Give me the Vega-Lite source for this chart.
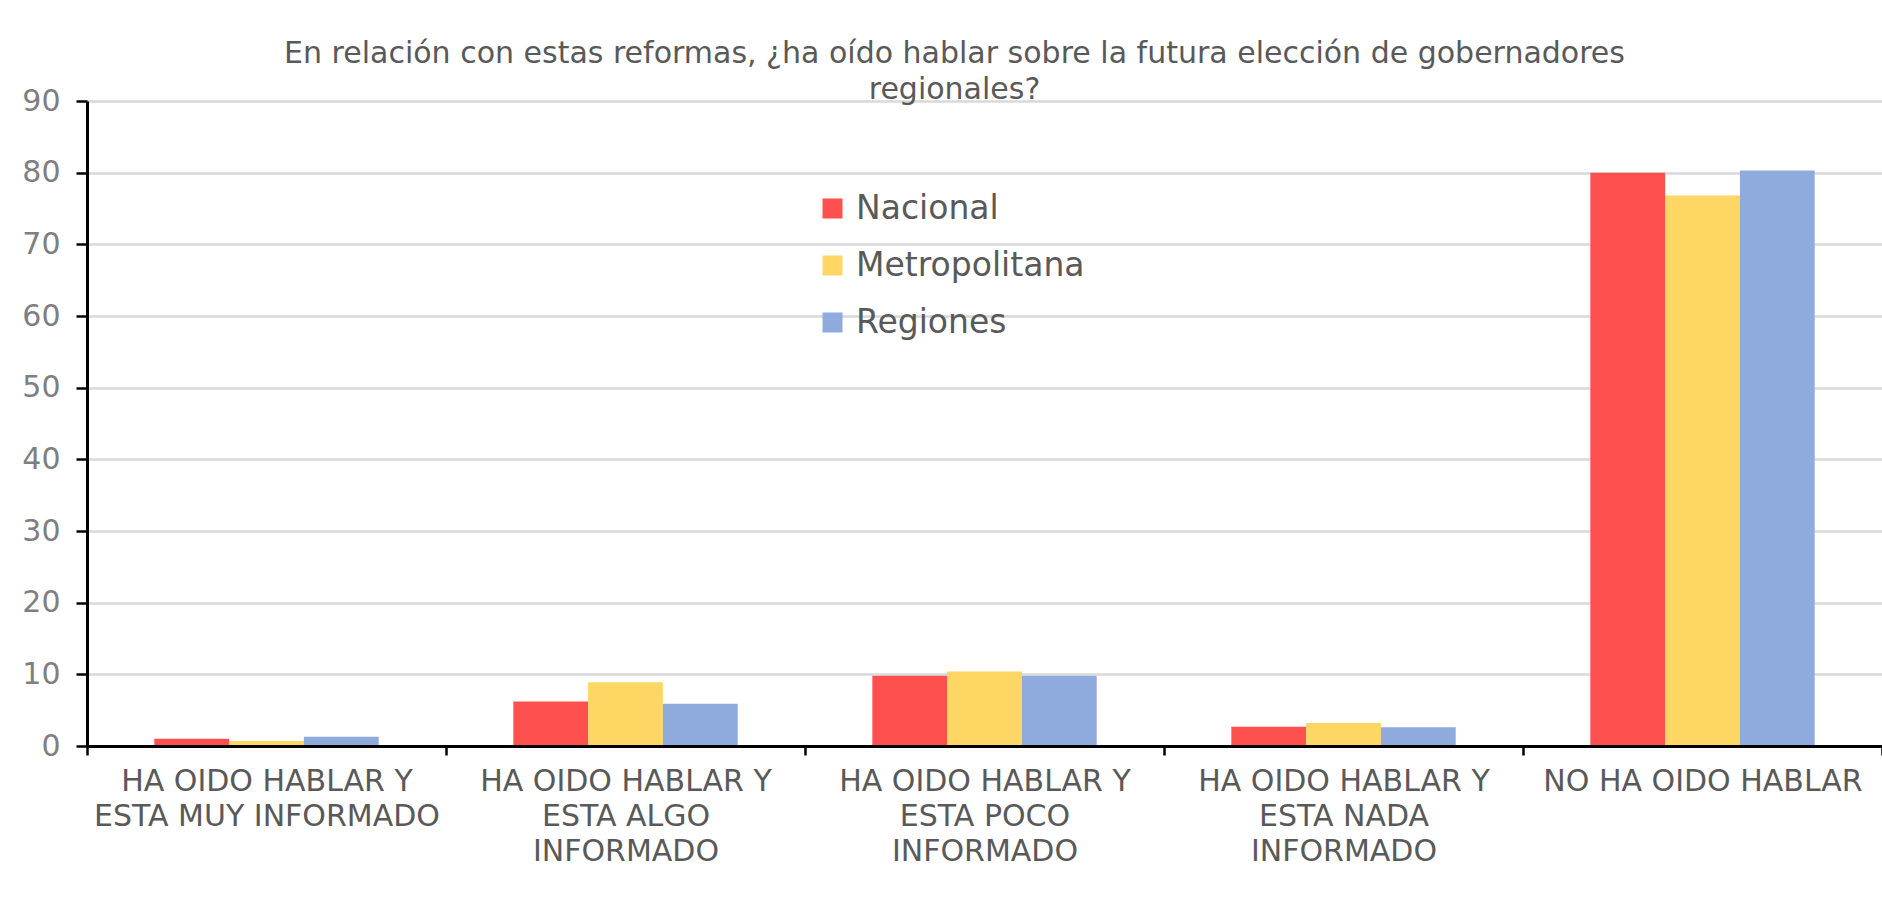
{
  "$schema": "https://vega.github.io/schema/vega-lite/v6.json",
  "width": 1795,
  "height": 645,
  "autosize": {"type": "none"},
  "padding": {"left": 87, "top": 101, "right": 0, "bottom": 165},
  "background": "white",
  "title": {
    "text": ["En relación con estas reformas, ¿ha oído hablar sobre la futura elección de gobernadores", "regionales?"],
    "anchor": "middle",
    "frame": "group",
    "dx": -30,
    "offset": -19,
    "font": "DejaVu Sans",
    "fontSize": 30,
    "fontWeight": "normal",
    "color": "#595959",
    "lineHeight": 36
  },
  "data": {
    "values": [
      {"categoria": "HA OIDO HABLAR Y\nESTA MUY INFORMADO", "zona": "Nacional", "valor": 1.0},
      {"categoria": "HA OIDO HABLAR Y\nESTA MUY INFORMADO", "zona": "Metropolitana", "valor": 0.7},
      {"categoria": "HA OIDO HABLAR Y\nESTA MUY INFORMADO", "zona": "Regiones", "valor": 1.3},
      {"categoria": "HA OIDO HABLAR Y\nESTA ALGO\nINFORMADO", "zona": "Nacional", "valor": 6.2},
      {"categoria": "HA OIDO HABLAR Y\nESTA ALGO\nINFORMADO", "zona": "Metropolitana", "valor": 8.9},
      {"categoria": "HA OIDO HABLAR Y\nESTA ALGO\nINFORMADO", "zona": "Regiones", "valor": 5.9},
      {"categoria": "HA OIDO HABLAR Y\nESTA POCO\nINFORMADO", "zona": "Nacional", "valor": 9.8},
      {"categoria": "HA OIDO HABLAR Y\nESTA POCO\nINFORMADO", "zona": "Metropolitana", "valor": 10.4},
      {"categoria": "HA OIDO HABLAR Y\nESTA POCO\nINFORMADO", "zona": "Regiones", "valor": 9.8},
      {"categoria": "HA OIDO HABLAR Y\nESTA NADA\nINFORMADO", "zona": "Nacional", "valor": 2.7},
      {"categoria": "HA OIDO HABLAR Y\nESTA NADA\nINFORMADO", "zona": "Metropolitana", "valor": 3.2},
      {"categoria": "HA OIDO HABLAR Y\nESTA NADA\nINFORMADO", "zona": "Regiones", "valor": 2.6},
      {"categoria": "NO HA OIDO HABLAR", "zona": "Nacional", "valor": 80.0},
      {"categoria": "NO HA OIDO HABLAR", "zona": "Metropolitana", "valor": 76.8},
      {"categoria": "NO HA OIDO HABLAR", "zona": "Regiones", "valor": 80.3}
    ]
  },
  "mark": {"type": "bar"},
  "encoding": {
    "x": {
      "field": "categoria",
      "type": "nominal",
      "sort": null,
      "scale": {"paddingInner": 0, "paddingOuter": 0},
      "axis": {
        "title": null,
        "zindex": 2,
        "labelExpr": "split(datum.label, '\\n')",
        "labelAngle": 0,
        "labelFont": "DejaVu Sans",
        "labelFontSize": 30,
        "labelColor": "#595959",
        "labelLineHeight": 35,
        "labelPadding": 11,
        "labelLimit": 380,
        "labelBaseline": "top",
        "domainColor": "black",
        "domainWidth": 3,
        "tickColor": "black",
        "tickWidth": 2.5,
        "tickSize": 9,
        "tickBand": "extent",
        "grid": false
      }
    },
    "xOffset": {
      "field": "zona",
      "type": "nominal",
      "sort": ["Nacional", "Metropolitana", "Regiones"],
      "scale": {"paddingInner": 0, "paddingOuter": 0.9}
    },
    "y": {
      "field": "valor",
      "type": "quantitative",
      "scale": {"domain": [0, 90], "nice": false},
      "axis": {
        "title": null,
        "values": [0, 10, 20, 30, 40, 50, 60, 70, 80, 90],
        "labelFont": "DejaVu Sans",
        "labelFontSize": 30,
        "labelColor": "#7f7f7f",
        "labelPadding": 16,
        "domainColor": "black",
        "domainWidth": 3,
        "tickColor": "black",
        "tickWidth": 2.5,
        "tickSize": 11,
        "gridColor": "#d9d9d9",
        "gridWidth": 2.5
      }
    },
    "color": {
      "field": "zona",
      "type": "nominal",
      "scale": {
        "domain": ["Nacional", "Metropolitana", "Regiones"],
        "range": ["#FF5050", "#FDD663", "#8FAADC"]
      },
      "legend": {
        "orient": "none",
        "legendX": 729,
        "legendY": 91,
        "title": null,
        "symbolType": "square",
        "symbolSize": 400,
        "symbolStrokeWidth": 0,
        "labelFont": "DejaVu Sans",
        "labelFontSize": 33,
        "labelColor": "#595959",
        "labelOffset": 7,
        "labelLimit": 400,
        "rowPadding": 23,
        "padding": 0
      }
    }
  },
  "config": {"view": {"stroke": null}}
}
